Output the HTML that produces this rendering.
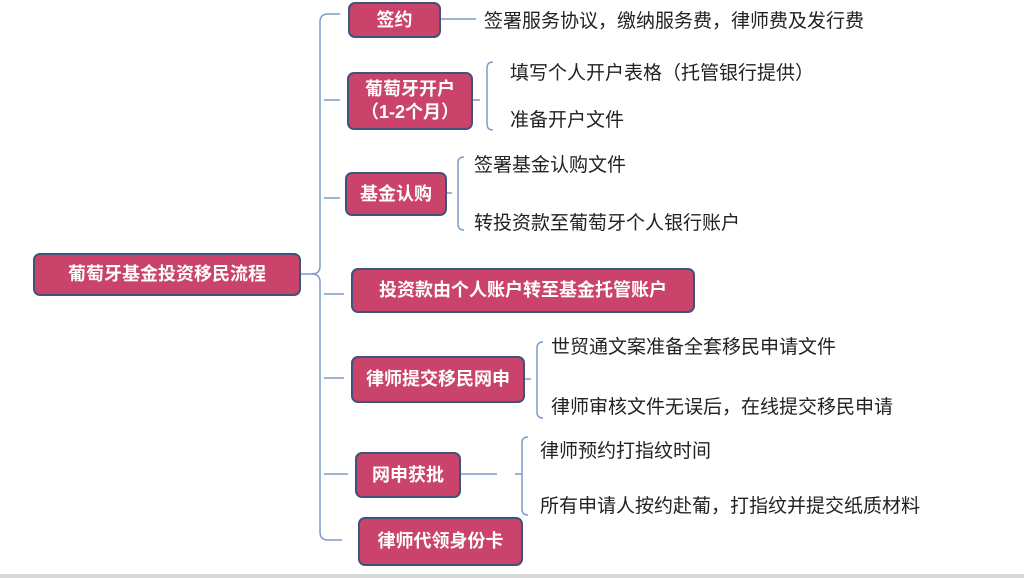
<!DOCTYPE html>
<html><head><meta charset="utf-8"><style>
body{margin:0;width:1024px;height:578px;background:#fff;position:relative;overflow:hidden;font-family:"Liberation Sans","Noto Sans CJK SC",sans-serif}
.b{position:absolute;background:#c9436a;border:2px solid #41527d;border-radius:7px;color:#fff;font-weight:bold;font-size:18px;display:flex;align-items:center;justify-content:center;text-align:center;line-height:23px;box-sizing:border-box}
.t{position:absolute;font-size:19px;color:#222;white-space:nowrap;line-height:22px}
svg{position:absolute;left:0;top:0}
</style></head><body>
<svg width="1024" height="578" fill="none" stroke="#7d9cc6" stroke-width="1.5">
<path d="M300 274 H312 Q320 274 320 266 V22 Q320 14 328 14 H340"/>
<path d="M312 274 Q320 274 320 282 V532 Q320 540 328 540 H342"/>
<path d="M324 100 H340 M324 198 H340 M324 294 H344 M324 378 H344 M324 474 H348"/>
<path d="M440 19 H476"/>
<path d="M473 100 H480 M493 62 Q487 62 487 68 V124 Q487 130 493 130"/>
<path d="M447 193 H452 M464 157 Q458 157 458 163 V224 Q458 230 464 230"/>
<path d="M525 379 H531 M543 342 Q537 342 537 348 V412 Q537 418 543 418"/>
<path d="M461 474 H497 M515 474 H522 M528 437 Q522 437 522 443 V509 Q522 515 528 515"/>
</svg>
<div class="b" style="left:348px;top:2px;width:93px;height:36px">签约</div>
<div class="b" style="left:347px;top:72px;width:126px;height:58px">葡萄牙开户<br>（1-2个月）</div>
<div class="b" style="left:345px;top:172px;width:102px;height:44px">基金认购</div>
<div class="b" style="left:33px;top:253px;width:268px;height:43px">葡萄牙基金投资移民流程</div>
<div class="b" style="left:351px;top:268px;width:344px;height:45px">投资款由个人账户转至基金托管账户</div>
<div class="b" style="left:351px;top:356px;width:174px;height:47px">律师提交移民网申</div>
<div class="b" style="left:355px;top:452px;width:106px;height:46px">网申获批</div>
<div class="b" style="left:358px;top:517px;width:165px;height:49px">律师代领身份卡</div>
<div class="t" style="left:484px;top:11px">签署服务协议，缴纳服务费，律师费及发行费</div>
<div class="t" style="left:510px;top:63px">填写个人开户表格（托管银行提供）</div>
<div class="t" style="left:510px;top:110px">准备开户文件</div>
<div class="t" style="left:474px;top:155px">签署基金认购文件</div>
<div class="t" style="left:474px;top:213px">转投资款至葡萄牙个人银行账户</div>
<div class="t" style="left:551px;top:337px">世贸通文案准备全套移民申请文件</div>
<div class="t" style="left:551px;top:397px">律师审核文件无误后，在线提交移民申请</div>
<div class="t" style="left:540px;top:441px">律师预约打指纹时间</div>
<div class="t" style="left:540px;top:496px">所有申请人按约赴葡，打指纹并提交纸质材料</div>
<div style="position:absolute;left:0;top:574px;width:1024px;height:4px;background:#d8d8d8"></div>
</body></html>
